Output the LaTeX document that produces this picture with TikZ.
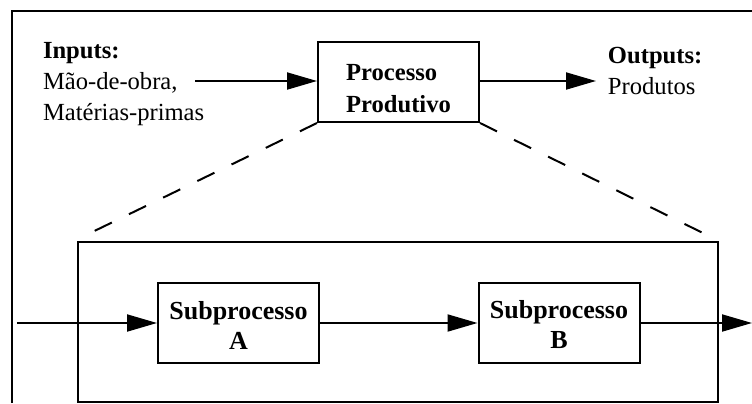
\documentclass[tikz,border=0pt]{standalone}
\usepackage{fontspec}
\setmainfont{Liberation Serif}
\usetikzlibrary{arrows.meta}
\begin{document}
\begin{tikzpicture}[x=0.5pt,y=-0.5pt,line width=1pt,
        caixa/.style={draw,rectangle,inner sep=0pt,minimum width=80.5pt,minimum height=40pt,font=\fontsize{12.3}{16}\selectfont\bfseries},
        seta/.style={-{Triangle[length=15pt,width=8.5pt]}},
        rotulo/.style={anchor=north west,inner sep=0pt,align=left,font=\fontsize{12.3}{15.6}\selectfont},
        tracejado/.style={dash pattern=on 9.5pt off 9.5pt}]
                \useasboundingbox (0,0) rectangle (752,403);
                \draw (12,403) -- (12,11) -- (752,11);
                \node[caixa,align=left] (proc) at (398.5,82) {\rule{0pt}{15pt}Processo\\Produtivo};
                \node[rotulo] (inputs) at (42,41) {\textbf{Inputs:}\\Mão-de-obra,\\Matérias-primas};
                \node[rotulo] (outputs) at (607,46) {\textbf{Outputs:}\\Produtos};
                \coordinate (ini) at (195,81);
                \coordinate (fim) at (596,81);
                \draw[seta] (ini) -- (ini -| proc.west);
                \draw[seta] (fim -| proc.east) -- (fim);
                \node[draw,rectangle,inner sep=0pt,minimum width=320pt,minimum height=80pt] (detalhe) at (398,322) {};
                \coordinate (dA) at (82,237);
                \coordinate (dB) at (709,236);
                \draw[tracejado] (proc.south west) -- (dA);
                \draw[tracejado] (proc.south east) -- (dB);
                \node[caixa,align=center,font=\fontsize{13}{15}\selectfont\bfseries] (subA) at (238.5,323) {\rule{0pt}{11pt}Subprocesso\\A};
                \node[caixa,align=center,font=\fontsize{13}{15}\selectfont\bfseries] (subB) at (559,323) {\rule{0pt}{11pt}Subprocesso\\B};
                \coordinate (entrada) at (17,323);
                \coordinate (saida) at (752,323);
                \draw[seta] (entrada) -- (subA.west);
                \draw[seta] (subA.east) -- (subB.west);
                \draw[seta] (subB.east) -- (saida);
            \end{tikzpicture}
\end{document}
